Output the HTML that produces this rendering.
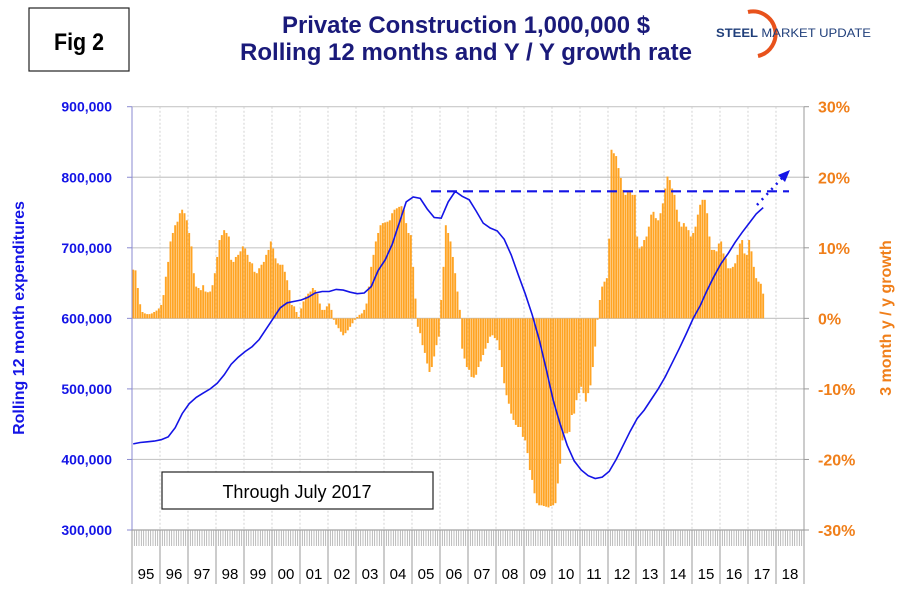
<!DOCTYPE html>
<html><head><meta charset="utf-8"><style>
body{margin:0;background:#fff;width:901px;height:595px;overflow:hidden;font-family:"Liberation Sans",sans-serif}
svg{display:block}
</style></head><body>
<svg width="901" height="595" viewBox="0 0 901 595">
<rect x="29" y="8" width="100" height="63" fill="#fff" stroke="#222" stroke-width="1.2"/>
<text x="79" y="50" text-anchor="middle" font-size="24" font-weight="bold" fill="#000" textLength="50" lengthAdjust="spacingAndGlyphs">Fig 2</text>
<text x="466" y="33" text-anchor="middle" font-size="24" font-weight="bold" fill="#1a1a7a" textLength="368" lengthAdjust="spacingAndGlyphs">Private Construction 1,000,000 $</text>
<text x="466" y="60" text-anchor="middle" font-size="24" font-weight="bold" fill="#1a1a7a" textLength="452" lengthAdjust="spacingAndGlyphs">Rolling 12 months and Y / Y growth rate</text>
<g>
<path d="M748 12 A22 22 0 0 1 758 56" fill="none" stroke="#e8521c" stroke-width="4"/>
<text x="716" y="37" font-size="12" font-weight="bold" fill="#1f3e7a" textLength="155" lengthAdjust="spacingAndGlyphs">STEEL <tspan font-weight="normal">MARKET UPDATE</tspan></text>
</g>
<g id="grid"></g>
<g id="bars"></g>
<g id="axes"></g>
<polyline id="line" fill="none" stroke="#1414e6" stroke-width="1.6"/>
<line x1="431" y1="191.3" x2="789" y2="191.3" stroke="#1414e6" stroke-width="2.2" stroke-dasharray="10,6"/>
<line x1="757" y1="205" x2="783" y2="177" stroke="#1414e6" stroke-width="2.5" stroke-dasharray="2,5"/>
<polygon points="790,170 778,175 785,182" fill="#1414e6"/>
<rect x="162" y="472" width="271" height="37" fill="#fff" stroke="#222" stroke-width="1.2"/>
<text x="297" y="498" text-anchor="middle" font-size="18" fill="#000">Through July 2017</text>
<text transform="translate(24,318) rotate(-90)" text-anchor="middle" font-size="16" font-weight="bold" fill="#1414e6">Rolling 12 month expenditures</text>
<text transform="translate(891,318) rotate(-90)" text-anchor="middle" font-size="16" font-weight="bold" fill="#f07f1a">3 month y / y growth</text>
</svg>
<script>
const growth = [
6.9,6.8,4.3,2.0,0.9,0.7,0.6,0.6,0.7,0.9,1.1,1.4,
1.9,3.3,5.9,8.0,10.9,12.1,13.2,13.7,14.9,15.4,14.9,13.9,
12.1,10.2,6.4,4.5,4.3,4.0,4.7,3.8,3.7,3.8,4.7,6.4,
8.7,11.1,11.8,12.5,12.1,11.6,8.3,8.0,8.7,9.0,9.5,10.2,
9.9,9.0,8.0,7.8,6.6,6.4,7.1,7.6,8.0,9.0,9.7,10.9,
9.9,8.5,7.8,7.6,7.6,6.6,5.4,4.0,1.9,1.7,0.9,0.2,
1.4,2.4,3.1,3.5,3.8,4.3,4.0,3.5,2.1,1.2,1.2,1.7,
2.1,1.2,-0.2,-0.9,-1.4,-1.9,-2.4,-2.1,-1.7,-1.2,-0.7,-0.2,
0.2,0.5,0.7,1.2,2.1,4.5,7.3,9.0,10.9,12.1,13.2,13.5,
13.6,13.7,13.9,14.9,15.4,15.6,15.8,15.9,15.4,13.5,12.1,11.8,
7.3,2.8,-1.2,-2.1,-3.8,-4.9,-6.4,-7.6,-6.9,-5.4,-3.8,-2.6,
2.6,7.3,13.2,12.1,10.9,8.7,6.4,3.8,1.2,-4.3,-5.7,-6.9,
-7.3,-8.3,-8.4,-8.0,-6.9,-6.1,-5.2,-4.3,-3.5,-2.6,-2.4,-2.8,
-3.1,-4.5,-6.9,-9.2,-10.9,-12.1,-13.5,-14.4,-15.1,-15.4,-15.4,-16.8,
-17.3,-19.1,-21.5,-22.9,-24.8,-26.2,-26.5,-26.5,-26.6,-26.7,-26.8,-26.6,
-26.5,-26.2,-23.4,-20.6,-17.3,-16.3,-16.3,-16.1,-13.7,-13.5,-11.6,-10.6,
-9.7,-10.6,-11.8,-10.6,-9.5,-6.9,-4.0,-0.2,2.6,4.5,5.2,5.7,
11.3,23.9,23.4,23.0,21.3,19.9,18.2,17.5,18.0,18.0,17.5,17.5,
11.6,9.9,10.2,11.1,11.6,13.0,14.7,15.1,14.2,13.9,14.9,16.3,
18.4,20.1,19.6,18.4,17.5,15.4,13.7,13.0,13.5,13.0,12.5,11.6,
12.1,13.0,14.7,16.1,16.8,16.8,14.9,11.6,9.7,9.7,9.5,10.6,
10.9,9.2,8.5,7.1,7.1,7.3,7.8,9.0,10.6,11.1,9.2,9.0,
11.1,9.5,7.3,5.7,5.2,4.9,3.5];
const lineMonths = [];
for (let i = 0; i <= 270; i += 3) lineMonths.push(i);
const lineValues = [
422,424,425,426, 428,432,445,465, 479,488,494,500, 508,520,535,545,
553,560,570,585, 600,615,622,624, 626,630,636,638, 638,641,640,637,
635,636,645,668, 683,705,735,765, 772,770,755,743, 742,765,780,773,
768,752,735,728, 724,712,690,662, 635,605,570,528, 484,450,420,398,
385,377,373,375, 383,400,420,440, 458,470,485,500, 517,537,557,578,
600,618,640,660, 678,692,708,722, 735,748,757];
const leftTicks = [300000,400000,500000,600000,700000,800000,900000];
const leftTickLabels = ["300,000","400,000","500,000","600,000","700,000","800,000","900,000"];
const rightTicks = [-30,-20,-10,0,10,20,30];
const rightTickLabels = ["-30%","-20%","-10%","0%","10%","20%","30%"];
const yearLabels = ["95","96","97","98","99","00","01","02","03","04","05","06","07","08","09","10","11","12","13","14","15","16","17","18"];

const NS = "http://www.w3.org/2000/svg";
const X0 = 132, YW = 28, MW = 28/12, TOP = 106.7, BOT = 530;
const xM = m => X0 + m * MW;
const yL = v => BOT - (v - 300) / 600 * (BOT - TOP);
const yR = p => BOT - (p + 30) / 60 * (BOT - TOP);
function mk(tag, attrs, parent) { const e = document.createElementNS(NS, tag); for (const k in attrs) e.setAttribute(k, attrs[k]); parent.appendChild(e); return e; }

const grid = document.getElementById('grid');
leftTicks.forEach(t => {
  const y = yL(t / 1000);
  const l = mk('line', {x1: X0, x2: X0 + 24 * YW, y1: y, y2: y, stroke: '#c8c8c8', 'stroke-width': 1.2}, grid);
  
  
});
for (let i = 1; i < 24; i++) {
  const x = X0 + i * YW;
  const l = mk('line', {x1: x, x2: x, y1: TOP, y2: BOT, stroke: '#c8c8c8', 'stroke-width': 0.8, 'stroke-dasharray': '2,2'}, grid);
  
  
}

const bars = document.getElementById('bars');
growth.forEach((g, i) => {
  const y0 = yR(0), y1 = yR(g);
  const r = mk('rect', {x: xM(i) + 0.2, y: Math.min(y0, y1), width: MW - 0.4, height: Math.abs(y1 - y0), fill: '#ffa424'}, bars);
  
  
});

const axes = document.getElementById('axes');
mk('line', {x1: X0, x2: X0, y1: TOP, y2: BOT, stroke: '#8a8ad0', 'stroke-width': 1}, axes);
mk('line', {x1: X0 + 24 * YW, x2: X0 + 24 * YW, y1: TOP, y2: BOT, stroke: '#999', 'stroke-width': 1}, axes);
leftTicks.forEach((t, i) => {
  const y = yL(t / 1000);
  mk('line', {x1: X0 - 5, x2: X0, y1: y, y2: y, stroke: '#8a8ad0'}, axes);
  const tx = mk('text', {x: 112, y: y + 5, 'text-anchor': 'end', 'font-size': 14, 'font-weight': 'bold', fill: '#1414e6'}, axes);
  tx.textContent = leftTickLabels[i];
  
  
});
rightTicks.forEach((t, i) => {
  const y = yR(t);
  mk('line', {x1: X0 + 24 * YW, x2: X0 + 24 * YW + 5, y1: y, y2: y, stroke: '#999'}, axes);
  const tx = mk('text', {x: 818, y: y + 6, 'font-size': 16, 'font-weight': 'bold', fill: '#f07f1a'}, axes);
  tx.textContent = rightTickLabels[i];
  
  
});
mk('line', {x1: X0, x2: X0 + 24 * YW, y1: BOT, y2: BOT, stroke: '#999'}, axes);
for (let m = 0; m <= 288; m++) {
  mk('line', {x1: xM(m), x2: xM(m), y1: BOT, y2: BOT + 16, stroke: '#aaa', 'stroke-width': 0.8}, axes);
}
yearLabels.forEach((lab, i) => {
  const x = X0 + i * YW;
  mk('line', {x1: x, x2: x, y1: BOT, y2: 584, stroke: '#999', 'stroke-width': 1}, axes);
  const tx = mk('text', {x: x + YW / 2, y: 579, 'text-anchor': 'middle', 'font-size': 15, fill: '#000'}, axes);
  tx.textContent = lab;
  
  
});
mk('line', {x1: X0 + 24 * YW, x2: X0 + 24 * YW, y1: BOT, y2: 584, stroke: '#999'}, axes);

document.getElementById('line').setAttribute('points',
  lineMonths.map((m, i) => (xM(m) + MW / 2).toFixed(1) + ',' + yL(lineValues[i]).toFixed(1)).join(' '));
</script>
</body></html>
